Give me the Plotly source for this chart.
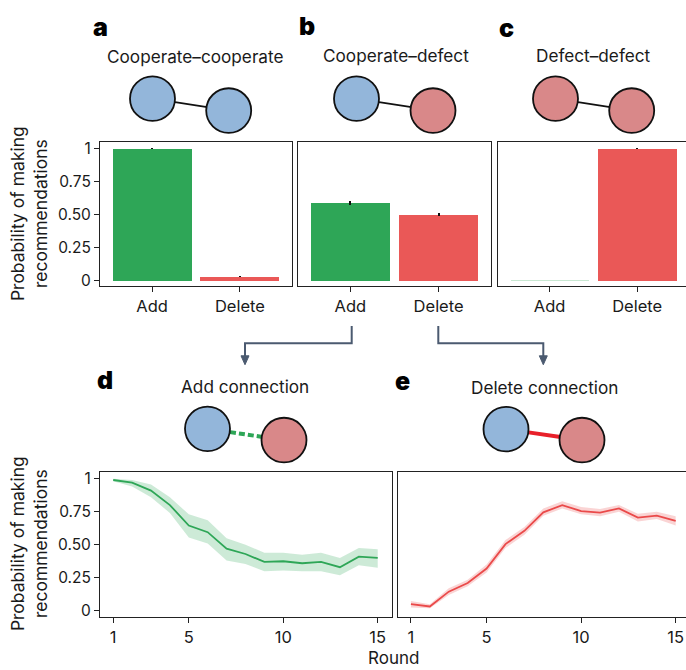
import plotly.graph_objects as go

# ---------------- data ----------------
bar_categories = ["Add", "Delete"]
coop_coop = [1.0, 0.03]
coop_coop_err = [0.003, 0.004]
coop_defect = [0.585, 0.50]
coop_defect_err = [0.013, 0.009]
defect_defect = [0.002, 1.0]
defect_defect_err = [0.001, 0.003]

rounds = list(range(1, 16))
add_mean = [0.99, 0.97, 0.91, 0.80, 0.645, 0.595, 0.47, 0.43, 0.37, 0.375, 0.36, 0.37, 0.33, 0.41, 0.40]
add_lo = [0.98, 0.94, 0.86, 0.74, 0.555, 0.51, 0.38, 0.355, 0.30, 0.305, 0.30, 0.30, 0.27, 0.345, 0.325]
add_hi = [1.0, 0.99, 0.955, 0.86, 0.73, 0.685, 0.55, 0.50, 0.44, 0.44, 0.425, 0.44, 0.40, 0.475, 0.465]
del_mean = [0.05, 0.033, 0.145, 0.21, 0.32, 0.505, 0.605, 0.745, 0.80, 0.755, 0.743, 0.775, 0.705, 0.72, 0.68]
del_lo = [0.025, 0.02, 0.12, 0.185, 0.29, 0.475, 0.575, 0.72, 0.775, 0.73, 0.715, 0.75, 0.675, 0.695, 0.645]
del_hi = [0.075, 0.05, 0.17, 0.235, 0.35, 0.535, 0.635, 0.775, 0.83, 0.785, 0.77, 0.80, 0.735, 0.75, 0.715]

y_tickvals = [0, 0.25, 0.5, 0.75, 1]
y_ticktext = ["0", "0.25", "0.50", "0.75", "1"]
x_round_ticks = [1, 5, 10, 15]

# ---------------- style ----------------
W, H = 686, 670
GREEN = "#2ea657"
RED = "#ea5857"
BLUE_NODE = "#93b6da"
PINK_NODE = "#d98889"
ARROW = "#4b5a70"
TXT = "#1a1a1a"
FONT = "Inter, Roboto, sans-serif"


def px(x):
    return x / W


def py(y):
    return 1 - y / H


fig = go.Figure()

bar_sets = [(coop_coop, coop_coop_err), (coop_defect, coop_defect_err), (defect_defect, defect_defect_err)]
for i, (vals, errs) in enumerate(bar_sets):
    ax = "" if i == 0 else str(i + 1)
    colors = [GREEN, RED]
    if i == 2:
        colors = ["#c9e8d2", RED]
    fig.add_trace(go.Bar(
        x=[0, 1], y=vals, width=0.9, marker=dict(color=colors, line=dict(width=0)),
        error_y=dict(type="data", array=errs, color="#111111", thickness=2, width=0),
        xaxis="x" + ax, yaxis="y" + ax, showlegend=False, hoverinfo="skip"))

# line panels
for j, (m, lo, hi, col, band) in enumerate([
        (add_mean, add_lo, add_hi, "#2ea657", "rgba(46,166,87,0.24)"),
        (del_mean, del_lo, del_hi, "#ea4a4a", "rgba(234,74,74,0.24)")]):
    ax = str(4 + j)
    fig.add_trace(go.Scatter(x=rounds, y=hi, mode="lines", line=dict(width=0),
                             xaxis="x" + ax, yaxis="y" + ax, showlegend=False, hoverinfo="skip"))
    fig.add_trace(go.Scatter(x=rounds, y=lo, mode="lines", line=dict(width=0), fill="tonexty",
                             fillcolor=band, xaxis="x" + ax, yaxis="y" + ax, showlegend=False,
                             hoverinfo="skip"))
    fig.add_trace(go.Scatter(x=rounds, y=m, mode="lines", line=dict(color=col, width=1.8),
                             xaxis="x" + ax, yaxis="y" + ax, showlegend=False, hoverinfo="skip"))

yrange = [-0.045, 1.05]
common_axis = dict(showgrid=False, zeroline=False, linecolor="#222222", linewidth=1,
                   tickcolor="#222222", ticklen=5, tickwidth=1, fixedrange=True)

top_dom_y = [py(286), py(140)]
bot_dom_y = [py(619.3), py(473.3)]

XT = 16.5
YT = 15.5

layout = dict(
    width=W, height=H, margin=dict(l=0, r=0, t=0, b=0),
    plot_bgcolor="white", paper_bgcolor="white",
    font=dict(family=FONT, color=TXT, size=14),
    bargap=0,
)

# bar panel axes
bar_x_doms = [[px(100), px(292)], [px(298), px(491)], [px(497.5), 1.0]]
bar_x_ranges = [[-0.594, 1.594], [-0.594, 1.594], [-0.594, 1.557]]
for i in range(3):
    suf = "" if i == 0 else str(i + 1)
    layout["xaxis" + suf] = dict(common_axis, domain=bar_x_doms[i], range=bar_x_ranges[i],
                                 anchor="y" + suf, tickvals=[0, 1], ticktext=bar_categories,
                                 ticks="outside", showline=True, mirror=True,
                                 tickfont=dict(size=XT))
    layout["yaxis" + suf] = dict(common_axis, domain=top_dom_y, range=yrange, anchor="x" + suf,
                                 showline=True, mirror=(i < 2),
                                 tickvals=y_tickvals, ticktext=y_ticktext,
                                 ticks="outside" if i == 0 else "",
                                 showticklabels=(i == 0), tickfont=dict(size=YT))

line_x_doms = [[px(100), px(391.7)], [px(397.7), 1.0]]
line_x_ranges = [[0.30, 15.74], [0.30, 15.545]]
for j in range(2):
    suf = str(4 + j)
    layout["xaxis" + suf] = dict(common_axis, domain=line_x_doms[j], range=line_x_ranges[j],
                                 anchor="y" + suf, tickvals=x_round_ticks, ticks="outside",
                                 showline=True, mirror=True, tickfont=dict(size=XT))
    layout["yaxis" + suf] = dict(common_axis, domain=bot_dom_y, range=yrange, anchor="x" + suf,
                                 showline=True, mirror=(j == 0),
                                 tickvals=y_tickvals, ticktext=y_ticktext,
                                 ticks="outside" if j == 0 else "",
                                 showticklabels=(j == 0), tickfont=dict(size=YT))

fig.update_layout(**layout)

# ---------------- annotations ----------------
ann = []


def text(x, y, s, size=15, bold=False, angle=0):
    ann.append(dict(x=px(x), y=py(y), xref="paper", yref="paper", text=s, showarrow=False,
                    xanchor="center", yanchor="middle", textangle=angle,
                    font=dict(size=size, family=FONT, color="#000000" if bold else TXT,
                              weight=900 if bold else 400)))


text(100, 24, "a", 25, True)
text(307, 23, "b", 25, True)
text(506, 25, "c", 25, True)
text(105, 380, "d", 25, True)
text(402, 381, "e", 25, True)

ST = 17.2
text(194.5, 54, "Cooperate–cooperate", ST)
text(396, 53, "Cooperate–defect", ST)
text(593, 53, "Defect–defect", ST)
text(245, 387, "Add connection", ST)
text(544, 388, "Delete connection", ST)

text(29, 213, "Probability of making<br>recommendations", 17.5, angle=-90)
text(29, 546, "Probability of making<br>recommendations", 17.5, angle=-90)
text(393, 661, "Round", 17)

fig.update_layout(annotations=ann)

# ---------------- shapes: nodes, edges, arrows ----------------
shapes = []
R = 22.5


def circle(cx, cy, fill):
    shapes.append(dict(type="circle", xref="paper", yref="paper",
                       x0=px(cx - R), x1=px(cx + R), y0=py(cy + R), y1=py(cy - R),
                       fillcolor=fill, line=dict(color="#111111", width=1.8), layer="above"))


def seg(x0, y0, x1, y1, color, width, dash="solid"):
    shapes.append(dict(type="line", xref="paper", yref="paper", x0=px(x0), y0=py(y0),
                       x1=px(x1), y1=py(y1), line=dict(color=color, width=width, dash=dash),
                       layer="above"))


node_sets = [
    ((152.5, 96.5), (228.7, 108.5), BLUE_NODE, BLUE_NODE, "#111111", 1.8, "solid"),
    ((356.5, 96.5), (433.0, 108.5), BLUE_NODE, PINK_NODE, "#111111", 1.8, "solid"),
    ((555.5, 96.5), (631.7, 108.5), PINK_NODE, PINK_NODE, "#111111", 1.8, "solid"),
    ((207.5, 429.7), (284.0, 441.0), BLUE_NODE, PINK_NODE, "#2ea657", 4, "6px,3px"),
    ((506.0, 430.0), (582.0, 441.0), BLUE_NODE, PINK_NODE, "#e8202a", 4, "solid"),
]
for (c1, c2, f1, f2, ec, ew, ed) in node_sets:
    seg(c1[0] + R, c1[1] + (c2[1] - c1[1]) * R / (c2[0] - c1[0]),
        c2[0] - R + 1, c2[1] - (c2[1] - c1[1]) * (R - 1) / (c2[0] - c1[0]), ec, ew, ed)
    circle(*c1, f1)
    circle(*c2, f2)


def path(d, color, width=2, fill=None):
    sh = dict(type="path", xref="paper", yref="paper", path=d,
              line=dict(color=color, width=width), layer="above")
    if fill:
        sh["fillcolor"] = fill
    shapes.append(sh)


def P(x, y):
    return f"{px(x)},{py(y)}"


path(f"M {P(351.7, 326)} L {P(351.7, 343.3)} L {P(245, 343.3)} L {P(245, 357)}", ARROW, 2)
path(f"M {P(438.3, 326)} L {P(438.3, 343.3)} L {P(543.3, 343.3)} L {P(543.3, 357)}", ARROW, 2)
for ax_ in (245, 543.3):
    path(f"M {P(ax_ - 4, 356)} L {P(ax_ + 4, 356)} L {P(ax_, 365)} Z", ARROW, 1, ARROW)

fig.update_layout(shapes=shapes)

fig.write_html("out.html")
